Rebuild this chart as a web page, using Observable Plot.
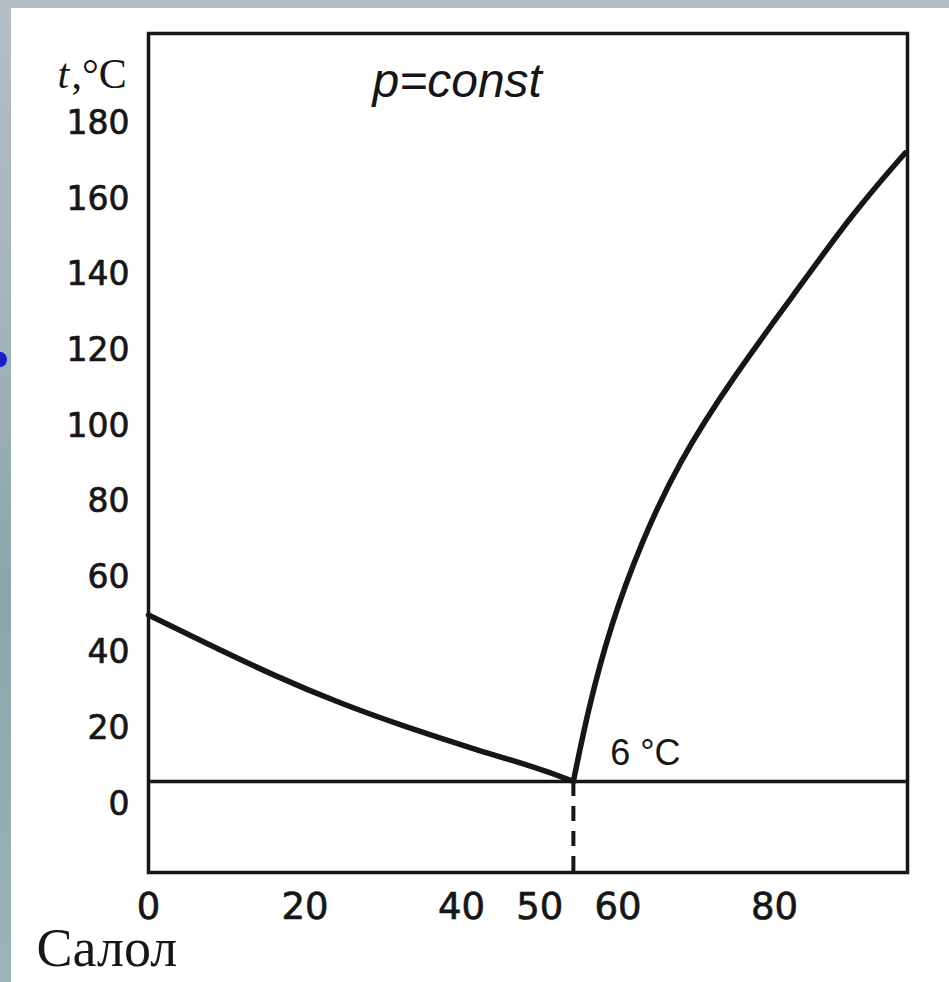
<!DOCTYPE html>
<html><head><meta charset="utf-8">
<script src="https://cdn.jsdelivr.net/npm/d3@7"></script>
<script src="https://cdn.jsdelivr.net/npm/@observablehq/plot@0.6"></script>
<style>
html,body{margin:0;padding:0;}
body{width:949px;height:982px;overflow:hidden;position:relative;
  background:linear-gradient(#b3bfc5 0%,#a4b5bb 30%,#8aa6ac 60%,#9cb3b9 100%);}
#chart{position:absolute;left:11px;top:8px;width:938px;height:974px;background:#fff;}
#dot{position:absolute;left:-6px;top:352px;width:13px;height:15px;border-radius:50%;background:#1c1cc8;}
</style></head>
<body>
<div id="dot"></div>
<div id="chart"></div>
<script>
// composition, % camphor (0 = pure salol)
const salolShare      = [0, 7.5, 16, 24.5, 33, 41.5, 50, 54.3];
const salolLiquidus   = [50, 42.4, 34, 26.6, 20.3, 14.6, 9.4, 6];
const camphorShare    = [54.3, 56.2, 59.0, 62.9, 67.8, 74.6, 82.4, 90.0, 96.7];
const camphorLiquidus = [6, 25.2, 47.0, 68.9, 90.7, 112.6, 134.5, 156.3, 172.2];
const eutecticX = 54.3;
const eutecticT = 6;
const xTicks = [0, 20, 40, 50, 60, 80];
const yTicks = [0, 20, 40, 60, 80, 100, 120, 140, 160, 180];
const xMax = 97;
const yMin = -18.1, yMax = 203.8;

const leftBranch = salolShare.map((x, i) => ({x, t: salolLiquidus[i]}));
const rightBranch = camphorShare.map((x, i) => ({x, t: camphorLiquidus[i]}));
const ink = "#161616";

const chart = Plot.plot({
  width: 938,
  height: 974,
  marginLeft: 137,
  marginRight: 42,
  marginTop: 25,
  marginBottom: 110,
  style: {background: "#fff", color: ink, overflow: "visible"},
  x: {domain: [0, xMax]},
  y: {domain: [yMin, yMax]},
  marks: [
    Plot.ruleY([eutecticT], {x1: 0, x2: xMax, stroke: ink, strokeWidth: 3.5}),
    Plot.ruleX([eutecticX], {y1: eutecticT, y2: yMin, stroke: ink, strokeWidth: 4, strokeDasharray: "15,10"}),
    Plot.line(leftBranch, {x: "x", y: "t", stroke: ink, strokeWidth: 5.5, curve: "basis"}),
    Plot.line(rightBranch, {x: "x", y: "t", stroke: ink, strokeWidth: 5.5, curve: "basis"}),
    Plot.frame({stroke: ink, strokeWidth: 3.5}),
    Plot.axisX({ticks: xTicks, tickSize: 0, tickPadding: 20, fontSize: 37, fontFamily: "DejaVu Sans", label: null,
      textStroke: ink, textStrokeWidth: 0.7}),
    Plot.axisY({ticks: yTicks, tickSize: 0, tickPadding: 19, fontSize: 33, fontFamily: "DejaVu Sans", label: null,
      textStroke: ink, textStrokeWidth: 0.7}),
    Plot.text(["p=const"], {text: d => d, frameAnchor: "top-left", dx: 224, dy: 48.6, textAnchor: "start", lineAnchor: "middle",
      fontSize: 48, fontStyle: "italic", fontFamily: "Liberation Sans", fill: ink}),
    Plot.text(["t"], {text: d => d, frameAnchor: "top-left", dx: -91, dy: 40.6, textAnchor: "start", lineAnchor: "middle",
      fontSize: 42, fontStyle: "italic", fontFamily: "Liberation Serif", fill: ink}),
    Plot.text([",°C"], {text: d => d, frameAnchor: "top-left", dx: -77, dy: 40.6, textAnchor: "start", lineAnchor: "middle",
      fontSize: 42, fontFamily: "Liberation Serif", fill: ink}),
    Plot.text(["6 °C"], {text: d => d, x: () => 59, y: () => eutecticT, dy: -27.5, textAnchor: "start", lineAnchor: "middle",
      fontSize: 36, fontFamily: "Liberation Sans", fill: ink}),
    Plot.text(["Салол"], {text: d => d, frameAnchor: "bottom-left", dx: -112, dy: 76.7, textAnchor: "start", lineAnchor: "middle",
      fontSize: 54, fontFamily: "Liberation Serif", fill: ink})
  ]
});
document.getElementById("chart").appendChild(chart);
</script>
</body></html>
